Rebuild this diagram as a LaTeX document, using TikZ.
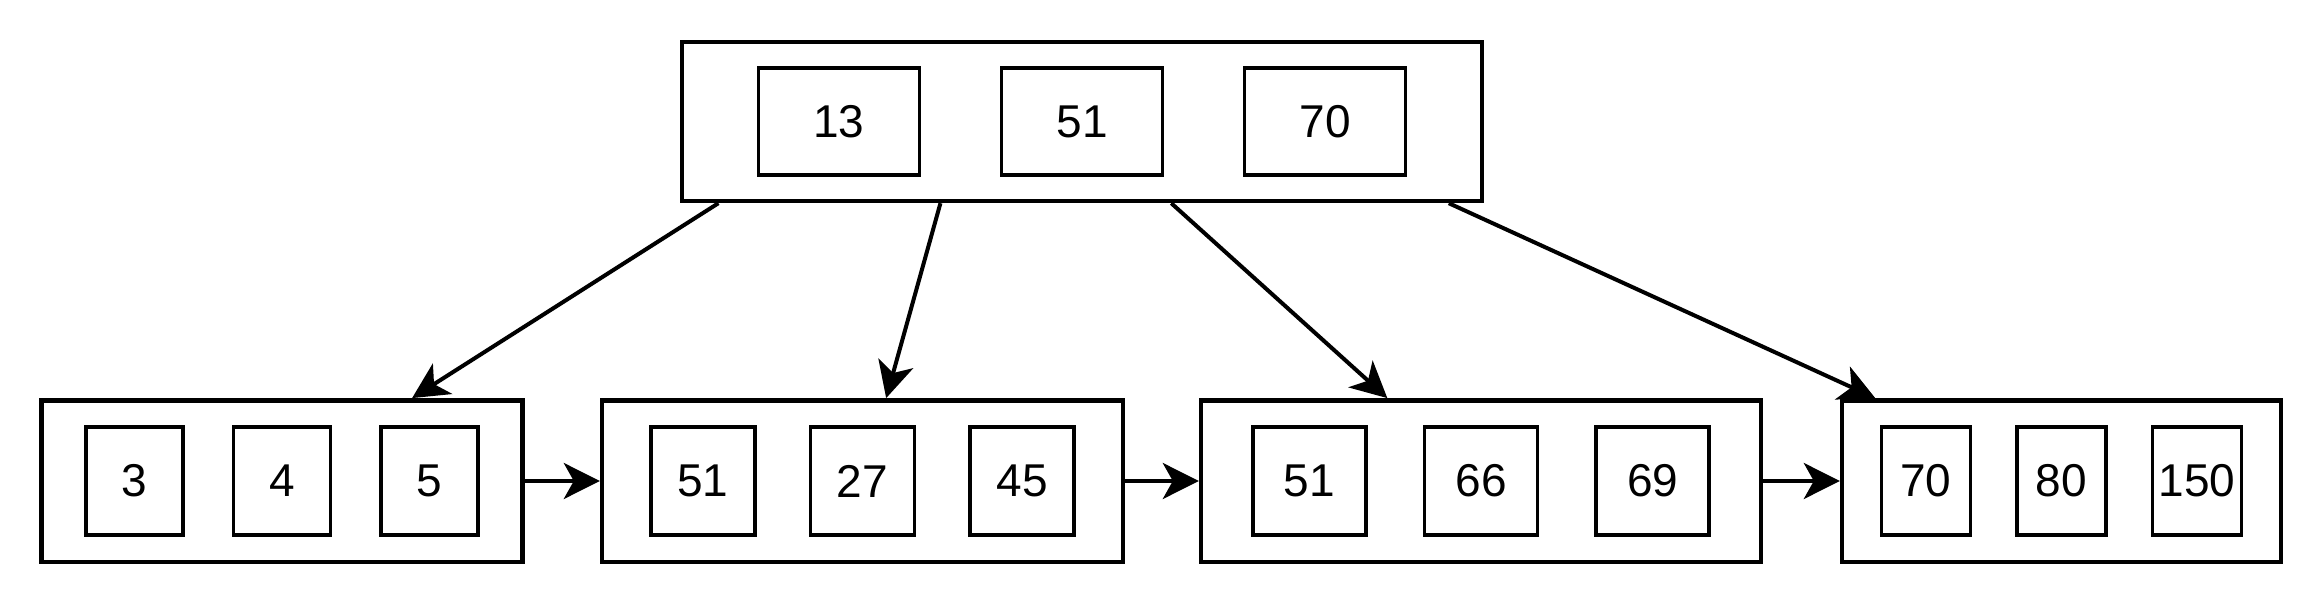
\documentclass[tikz,border=0pt]{standalone}
\usepackage{fontspec}
\setmainfont{Liberation Sans}
\usepackage{tikz}
\usetikzlibrary{
  arrows.meta,
  calc,
  positioning,
}
\tikzstyle{nodebox} = [
  rectangle,
  draw,
  line width=2.2pt,
  inner sep=0pt,
]
\tikzstyle{keybox} = [
  rectangle,
  draw,
  line width=1.8pt,
  inner sep=0pt,
  font=\fontsize{23}{27}\selectfont,
]
\tikzstyle{arrow} = [
  -{Stealth[length=18pt,width=18pt,inset=5pt]},
  line width=2pt,
  black,
]

\begin{document}
\begin{tikzpicture}[node distance=0pt and 0pt]

      \useasboundingbox (0,0) rectangle (1162pt,-302pt);

      \node[nodebox,minimum width=400pt,minimum height=79.5pt] (root) at (541pt,-60.75pt) {};
      \node[keybox,minimum width=80.5pt,minimum height=53.5pt] (r51) at (root) {51};
      \node[keybox,minimum width=80.5pt,minimum height=53.5pt] (r13) [left=39.25pt of r51] {13};
      \node[keybox,minimum width=80.5pt,minimum height=53.5pt] (r70) [right=39.25pt of r51] {70};

      \node[nodebox,minimum width=240.5pt,minimum height=80.7pt] (leaf1) at (141pt,-240.5pt) {};
      \node[keybox,minimum width=48.5pt,minimum height=54pt] (a4) at (leaf1) {4};
      \node[keybox,minimum width=48.5pt,minimum height=54pt] (a3) [left=23.5pt of a4] {3};
      \node[keybox,minimum width=48.5pt,minimum height=54pt] (a5) [right=23.5pt of a4] {5};

      \node[nodebox,minimum width=260.5pt,minimum height=80.7pt] (leaf2) at (431.25pt,-240.5pt) {};
      \node[keybox,minimum width=52pt,minimum height=54pt] (b27) at (leaf2) {27};
      \node[keybox,minimum width=52pt,minimum height=54pt] (b51) [left=26pt of b27] {51};
      \node[keybox,minimum width=52pt,minimum height=54pt] (b45) [right=26pt of b27] {45};

      \node[nodebox,minimum width=280pt,minimum height=80.7pt] (leaf3) at (740.5pt,-240.5pt) {};
      \node[keybox,minimum width=56.5pt,minimum height=54pt] (c66) at (leaf3) {66};
      \node[keybox,minimum width=56.5pt,minimum height=54pt] (c51) [left=27.5pt of c66] {51};
      \node[keybox,minimum width=56.5pt,minimum height=54pt] (c69) [right=27.5pt of c66] {69};

      \node[nodebox,minimum width=219.5pt,minimum height=80.7pt] (leaf4) at (1030.75pt,-240.5pt) {};
      \node[keybox,minimum width=44.5pt,minimum height=54pt] (d80) at (leaf4) {80};
      \node[keybox,minimum width=44.5pt,minimum height=54pt] (d70) [left=21.5pt of d80] {70};
      \node[keybox,minimum width=44.5pt,minimum height=54pt] (d150) [right=21.5pt of d80] {150};

      \draw[arrow] ($(root.south west)!0.048!(root.south east)$) -- ($(leaf1.north west)!0.768!(leaf1.north east)$);
      \draw[arrow] ($(root.south west)!0.324!(root.south east)$) -- ($(leaf2.north west)!0.545!(leaf2.north east)$);
      \draw[arrow] ($(root.south west)!0.611!(root.south east)$) -- ($(leaf3.north west)!0.334!(leaf3.north east)$);
      \draw[arrow] ($(root.south west)!0.956!(root.south east)$) -- ($(leaf4.north west)!0.080!(leaf4.north east)$);

      \draw[arrow] (leaf1.east) -- (leaf2.west);
      \draw[arrow] (leaf2.east) -- (leaf3.west);
      \draw[arrow] (leaf3.east) -- (leaf4.west);

\end{tikzpicture}
\end{document}
